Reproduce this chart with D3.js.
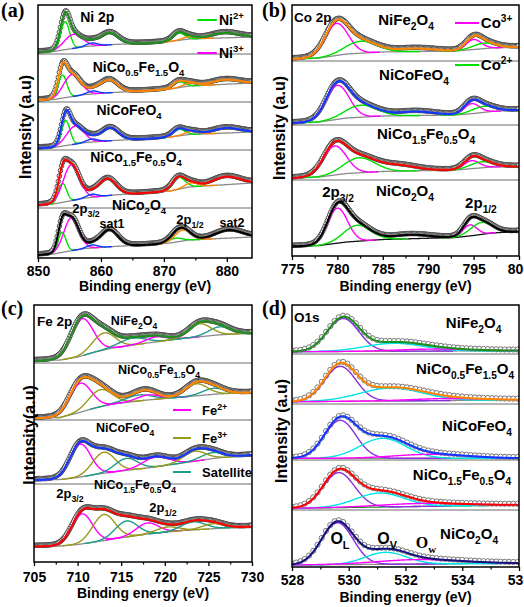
<!DOCTYPE html>
<html><head><meta charset="utf-8">
<script src="https://cdn.jsdelivr.net/npm/d3@7"></script>
<style>body{margin:0;background:#fff}svg{display:block}text{font-family:"Liberation Sans",Arial,sans-serif;font-weight:bold;fill:#000}</style>
</head><body><svg id="c" width="524" height="607"></svg>
<script>
// ================= DATA =================
// ---- (a) Ni 2p ----
const aSamples = ["NiFe_{2}O_{4}", "NiCo_{0.5}Fe_{1.5}O_{4}", "NiCoFeO_{4}", "NiCo_{1.5}Fe_{0.5}O_{4}", "NiCo_{2}O_{4}"];
const aComponents = ["Ni2+ 2p3/2", "Ni3+ 2p3/2", "shake-up", "sat1", "Ni2+ 2p1/2", "Ni3+ 2p1/2", "sat2"];
const aTicks = [850, 860, 870, 880];
const aMinorTicks = [855, 865, 875];
const aKnots = [850, 852.5, 855, 857.5, 862, 868, 871, 874, 884];
const aBackground = [
  [206, 206.5, 209, 211.5, 213.5, 215, 216.5, 219, 221],
  [158, 158.5, 161, 163.5, 165.5, 167.5, 169, 172, 175],
  [110, 110.5, 113, 115.5, 117.5, 119.5, 121, 123.5, 126],
  [53, 54, 57, 60, 63, 65.5, 67, 71, 75],
  [3, 4, 7, 9.5, 11.5, 13.5, 15, 18, 21]];
const aCenters = [
  [854.3, 855.6, 858.6, 861.3, 872.3, 874.0, 879.7],
  [853.9, 855.4, 858.7, 861.2, 872.3, 874.2, 879.8],
  [854.4, 855.9, 858.6, 861.4, 872.3, 874.4, 879.9],
  [853.9, 855.3, 858.6, 861.0, 872.3, 874.4, 879.9],
  [853.8, 855.3, 858.6, 861.3, 871.8, 873.0, 880.3]];
const aHeights = [
  [28, 14, 3, 12, 7.5, 2.5, 5],
  [23, 22, 3, 13, 6, 3, 4.5],
  [25, 18, 3, 13, 7, 3, 5],
  [19, 36, 3, 17, 12, 4, 8],
  [20, 33, 3, 17, 4, 11, 8]];
const aWidths = [
  [1.7, 3.4, 2.0, 3.4, 2.2, 2.5, 5],
  [1.6, 3.2, 2.0, 3.3, 2.2, 2.5, 5],
  [1.6, 3.2, 2.0, 3.3, 2.2, 2.5, 5],
  [1.5, 3.0, 2.0, 3.3, 2.4, 2.5, 5],
  [1.5, 2.8, 2.0, 3.3, 2.5, 3.0, 5]];
const aDividers = [204, 156, 108, 50];

// ---- (b) Co 2p ----
const bSamples = ["NiFe_{2}O_{4}", "NiCoFeO_{4}", "NiCo_{1.5}Fe_{0.5}O_{4}", "NiCo_{2}O_{4}"];
const bComponents = ["Co3+ 2p3/2", "Co2+ 2p3/2", "satellite", "Co3+ 2p1/2", "Co2+ 2p1/2"];
const bTicks = [775, 780, 785, 790, 795, 800];
const bMinorTicks = [777.5, 782.5, 787.5, 792.5, 797.5];
const bKnots = [775, 778, 781, 785, 793, 795, 797, 800];
const bBackground = [
  [197, 198, 202, 204, 205, 206.5, 208, 209],
  [133, 134, 138, 140, 141, 142.5, 144.5, 146],
  [78, 79, 82.5, 84.5, 86, 87.5, 89, 89.5],
  [9.5, 10.5, 14, 16.5, 18.5, 20.5, 23, 24.5]];
const bCenters = [
  [779.9, 782.6, 788.5, 795.0, 796.2],
  [780.0, 782.6, 788.5, 794.8, 796.1],
  [779.7, 782.4, 786.5, 794.8, 795.9],
  [780.0, 782.2, 788.0, 794.6, 795.9]];
const bHeights = [
  [32, 12, 3, 10, 5.5],
  [34, 12, 4, 10, 6],
  [29, 15, 6, 8, 6],
  [35, 16, 4, 11, 12]];
const bWidths = [
  [3.0, 4.0, 5, 2.0, 3.0],
  [3.0, 4.0, 5, 2.0, 3.0],
  [3.0, 4.0, 5, 2.0, 3.0],
  [2.6, 3.5, 5, 1.8, 2.8]];
const bDividers = [195, 131, 76];

// ---- (c) Fe 2p ----
const cSamples = ["NiFe_{2}O_{4}", "NiCo_{0.5}Fe_{1.5}O_{4}", "NiCoFeO_{4}", "NiCo_{1.5}Fe_{0.5}O_{4}"];
const cComponents = ["Fe2+ 2p3/2", "Fe3+ 2p3/2", "Satellite", "Fe2+ 2p1/2", "Fe3+ b", "Satellite 2", "Fe3+ 2p1/2"];
const cTicks = [705, 710, 715, 720, 725, 730];
const cMinorTicks = [707.5, 712.5, 717.5, 722.5, 727.5];
const cKnots = [705, 708, 710, 712, 714, 718, 722, 726, 730];
const cBackground = [
  [201.3, 202, 205, 210, 214, 219, 223.5, 227, 229],
  [143.7, 144.5, 149, 154, 158, 162, 165, 168, 169.5],
  [82, 82.5, 84.5, 87.5, 90, 94, 99, 104, 107],
  [15.5, 16, 17.5, 20, 23, 28, 31.5, 33.5, 35.5]];
const cCenters = [
  [710.5, 713.0, 716.3, 719.1, 720.5, 726.3, 724.0],
  [710.3, 712.6, 717.0, 718.1, 720.5, 725.6, 723.6],
  [710.3, 713.0, 715.6, 719.0, 720.5, 725.4, 723.4],
  [710.5, 713.0, 715.6, 718.0, 720.3, 723.3, 725.6]];
const cHeights = [
  [37, 17, 7, 5, 0, 8, 13],
  [29, 17, 6, 5, 0, 6, 12],
  [33, 21, 12, 10, 0, 6, 10],
  [30, 26, 16, 11, 5, 8, 5]];
const cWidths = [
  [3.0, 3.0, 3.5, 3.0, 3.0, 3.0, 3.0],
  [3.0, 3.2, 3.5, 3.0, 3.0, 3.0, 3.0],
  [2.8, 3.0, 3.0, 3.5, 3.0, 3.0, 3.0],
  [2.8, 3.0, 3.0, 3.0, 3.0, 3.2, 3.0]];
const cDividers = [199, 142, 78];

// ---- (d) O 1s ----
const dSamples = ["NiFe_{2}O_{4}", "NiCo_{0.5}Fe_{1.5}O_{4}", "NiCoFeO_{4}", "NiCo_{1.5}Fe_{0.5}O_{4}", "NiCo_{2}O_{4}"];
const dComponents = ["O_L", "O_V", "O_W"];
const dTicks = [528, 530, 532, 534, 536];
const dMinorTicks = [529, 531, 533, 535];
const dKnots = [528, 536];
const dBackground = [[215.3, 216.3], [165.3, 167], [108.7, 108.7], [58.7, 62], [2, 3.7]];
const dCenters = [
  [529.8, 531.6, 533.0],
  [529.7, 531.5, 533.5],
  [529.7, 531.2, 532.9],
  [529.65, 531.1, 532.6],
  [529.6, 531.3, 532.5]];
const dHeights = [
  [33, 8, 2],
  [35, 13, 2],
  [38, 20, 4],
  [35, 14, 3],
  [42, 12, 4.5]];
const dWidths = [
  [1.3, 2.4, 3.0],
  [1.3, 2.6, 3.0],
  [1.3, 1.9, 3.0],
  [1.3, 2.0, 3.5],
  [1.3, 1.7, 3.5]];
const dDividers = [213, 163, 107, 57];

// ================= DRAWING =================
const svg = d3.select("#c");
const gauss = (e, c, h, w) => h * Math.exp(-4 * Math.LN2 * ((e - c) / w) ** 2);
const GREEN = "#00e000", MAG = "#ff00ff", BLUE = "#1437ff", ORANGE = "#ff8400",
      DKGREEN = "#1f8f1f", RED = "#ff0000", GRAY = "#8a8a8a", OLIVE = "#9a9a1a",
      TEAL = "#1d9c8a", PURPLE = "#8a2be2", CYAN = "#00e5e5", NAVY = "#15157a";

function rich(sel, str, size) {
  const toks = str.match(/(_\{[^}]*\}|\^\{[^}]*\}|[^_^]+)/g);
  let shift = 0;
  sel.attr("font-size", size);
  toks.forEach(t => {
    if (t[0] === "_") {
      sel.append("tspan").attr("dy", size * 0.3 - shift).attr("font-size", size * 0.68).text(t.slice(2, -1));
      shift = size * 0.3;
    } else if (t[0] === "^") {
      sel.append("tspan").attr("dy", -size * 0.42 - shift).attr("font-size", size * 0.68).text(t.slice(2, -1));
      shift = -size * 0.42;
    } else {
      sel.append("tspan").attr("dy", -shift).text(t);
      shift = 0;
    }
  });
}

function panel(cfg) {
  const x = d3.scaleLinear().domain(cfg.domain).range([cfg.left, cfg.right]);
  const y = d3.scaleLinear().domain([0, cfg.bottom - cfg.top]).range([cfg.bottom, cfg.top]);
  const g = svg.append("g");
  const clipId = "clip" + cfg.id;
  svg.append("clipPath").attr("id", clipId).append("rect")
    .attr("x", cfg.left).attr("y", cfg.top).attr("width", cfg.right - cfg.left).attr("height", cfg.bottom - cfg.top);
  const plot = g.append("g").attr("clip-path", `url(#${clipId})`);

  cfg.dividers.forEach(v => plot.append("line").attr("x1", cfg.left).attr("x2", cfg.right)
    .attr("y1", y(v)).attr("y2", y(v)).attr("stroke", "#444").attr("stroke-width", 0.8));

  const fine = d3.range(cfg.domain[0], cfg.domain[1] + 1e-9, 0.03);
  cfg.background.forEach((bgv, i) => {
    const bg = d3.scaleLinear().domain(cfg.knots).range(bgv);
    const comps = cfg.centers[i].map((c, j) => ({ c, h: cfg.heights[i][j], w: cfg.widths[i][j], color: cfg.compColors[j] }));
    const env = e => bg(e) + d3.sum(comps, p => gauss(e, p.c, p.h, p.w));
    const pts = d3.range(cfg.domain[0], cfg.domain[1] + 1e-9, cfg.dotStep);
    plot.append("g").selectAll("circle").data(pts).join("circle")
      .attr("cx", d => x(d)).attr("cy", d => y(env(d)) - cfg.dotLift).attr("r", cfg.dotR)
      .attr("fill", "#fff").attr("stroke", cfg.dotStroke).attr("stroke-width", cfg.dotSW);
    plot.append("path").datum(fine)
      .attr("d", d3.line().x(d => x(d)).y(d => y(bg(d))))
      .attr("fill", "none").attr("stroke", cfg.bgColors[i]).attr("stroke-width", 1.3);
    comps.forEach(p => {
      if (!p.color || p.h <= 0) return;
      const xs = fine.filter(e => Math.abs(e - p.c) <= p.w * cfg.compSpan);
      plot.append("path").datum(xs)
        .attr("d", d3.line().x(d => x(d)).y(d => y(bg(d) + gauss(d, p.c, p.h, p.w))))
        .attr("fill", "none").attr("stroke", p.color).attr("stroke-width", 1.4);
    });
    plot.append("path").datum(fine)
      .attr("d", d3.line().x(d => x(d)).y(d => y(env(d))))
      .attr("fill", "none").attr("stroke", cfg.envColors[i]).attr("stroke-width", 2.1);
  });

  g.append("rect").attr("x", cfg.left).attr("y", cfg.top)
    .attr("width", cfg.right - cfg.left).attr("height", cfg.bottom - cfg.top)
    .attr("fill", "none").attr("stroke", "#000").attr("stroke-width", 1.5);

  const ax = g.append("g").attr("transform", `translate(0,${cfg.bottom})`)
    .call(d3.axisBottom(x).tickValues(cfg.ticks).tickFormat(d3.format("d")).tickSize(4).tickPadding(cfg.pad));
  ax.select(".domain").remove();
  ax.attr("font-family", null).attr("font-size", null);
  ax.selectAll("text").attr("font-size", 14).attr("fill", "#000");
  ax.selectAll("line").attr("stroke", "#000").attr("stroke-width", 1.3);
  const mx = g.append("g").attr("transform", `translate(0,${cfg.bottom})`)
    .call(d3.axisBottom(x).tickValues(cfg.minor).tickFormat("").tickSize(2.5));
  mx.select(".domain").remove();
  mx.selectAll("line").attr("stroke", "#000").attr("stroke-width", 1.2);

  g.append("text").attr("x", (cfg.left + cfg.right) / 2).attr("y", cfg.titleY)
    .attr("text-anchor", "middle").attr("font-size", 14).text("Binding energy (eV)");
  g.append("text").attr("transform", `translate(${cfg.yTitleX},${cfg.yTitleY}) rotate(-90)`)
    .attr("text-anchor", "middle").attr("font-size", 16).text(cfg.yTitle);
  g.append("text").attr("x", cfg.tagX).attr("y", cfg.tagY).attr("font-size", 20)
    .style("font-family", '"Liberation Serif","Times New Roman",serif').text(cfg.tag);

  cfg.labels.forEach(l => {
    const t = g.append("text").attr("x", x(l.e)).attr("y", y(l.v))
      .attr("text-anchor", l.anchor || "middle");
    if (l.serif) t.style("font-family", '"Liberation Serif","Times New Roman",serif');
    rich(t, l.t, l.size);
  });
  (cfg.legend || []).forEach(l => {
    g.append("line").attr("x1", x(l.e0)).attr("x2", x(l.e1)).attr("y1", y(l.v)).attr("y2", y(l.v))
      .attr("stroke", l.color).attr("stroke-width", 2);
    const t = g.append("text").attr("x", x(l.te)).attr("y", y(l.tv)).attr("text-anchor", "start");
    rich(t, l.t, l.size);
  });
}

// ---- Panel (a)
panel({
  id: "a", domain: [850, 884], left: 38, right: 252, top: 5, bottom: 258,
  knots: aKnots, background: aBackground, centers: aCenters, heights: aHeights, widths: aWidths,
  compColors: [GREEN, MAG, BLUE, null, GREEN, ORANGE, null],
  envColors: [DKGREEN, ORANGE, BLUE, RED, "#000"], bgColors: [GRAY, GRAY, GRAY, GRAY, GRAY],
  dividers: aDividers, ticks: aTicks, minor: aMinorTicks, pad: 4, titleY: 291,
  yTitle: "Intensity (a.u)", yTitleX: 31, yTitleY: 127, tag: "(a)", tagX: 1, tagY: 17,
  dotStep: 0.17, dotR: 2.3, dotLift: 1.2, dotStroke: "#3c3c3c", dotSW: 0.9, compSpan: 1.6,
  labels: [
    { t: "Ni 2p", e: 856.7, v: 236, anchor: "start", size: 14 },
    { t: aSamples[1], e: 865.97, v: 186, size: 14 },
    { t: aSamples[2], e: 864.46, v: 143, size: 14 },
    { t: aSamples[3], e: 865.57, v: 96, size: 14 },
    { t: aSamples[4], e: 866.05, v: 48, size: 14 },
    { t: "2p_{3/2}", e: 857.63, v: 45, size: 13 },
    { t: "sat1", e: 861.76, v: 30, size: 12.5 },
    { t: "2p_{1/2}", e: 874.15, v: 34, size: 13 },
    { t: "sat2", e: 880.82, v: 31, size: 12.5 }],
  legend: [
    { t: "Ni^{2+}", color: GREEN, e0: 875.3, e1: 878.4, v: 238, te: 878.75, tv: 233, size: 14 },
    { t: "Ni^{3+}", color: MAG, e0: 875.3, e1: 878.4, v: 205, te: 878.75, tv: 200, size: 14 }]
});

// ---- Panel (b)
panel({
  id: "b", domain: [775, 800], left: 292, right: 519, top: 5, bottom: 256,
  knots: bKnots, background: bBackground, centers: bCenters, heights: bHeights, widths: bWidths,
  compColors: [MAG, GREEN, null, MAG, GREEN],
  envColors: [ORANGE, BLUE, RED, "#000"], bgColors: [GRAY, GRAY, GRAY, "#111"],
  dividers: bDividers, ticks: bTicks, minor: bMinorTicks, pad: 4, titleY: 291,
  yTitle: "Intensity (a.u)", yTitleX: 285, yTitleY: 128, tag: "(b)", tagX: 262, tagY: 17,
  dotStep: 0.13, dotR: 2.3, dotLift: 1.2, dotStroke: "#3c3c3c", dotSW: 0.9, compSpan: 1.6,
  labels: [
    { t: "Co 2p", e: 775.22, v: 234, anchor: "start", size: 13.5 },
    { t: bSamples[0], e: 787.56, v: 231, size: 15 },
    { t: bSamples[1], e: 788.44, v: 176, size: 15 },
    { t: bSamples[2], e: 789.76, v: 117, size: 15 },
    { t: bSamples[3], e: 787.44, v: 60, size: 15 },
    { t: "2p_{3/2}", e: 780.07, v: 59, size: 15 },
    { t: "2p_{1/2}", e: 795.81, v: 48, size: 15 }],
  legend: [
    { t: "Co^{3+}", color: MAG, e0: 792.95, e1: 795.6, v: 233, te: 795.8, tv: 228, size: 15 },
    { t: "Co^{2+}", color: GREEN, e0: 792.95, e1: 795.6, v: 191, te: 795.8, tv: 186, size: 15 }]
});

// ---- Panel (c)
panel({
  id: "c", domain: [705, 730], left: 34, right: 252, top: 305, bottom: 562,
  knots: cKnots, background: cBackground, centers: cCenters, heights: cHeights, widths: cWidths,
  compColors: [MAG, OLIVE, TEAL, MAG, OLIVE, TEAL, OLIVE],
  envColors: [DKGREEN, ORANGE, BLUE, RED], bgColors: [GRAY, GRAY, GRAY, GRAY],
  dividers: cDividers, ticks: cTicks, minor: cMinorTicks, pad: 6, titleY: 598,
  yTitle: "Intensity(a.u)", yTitleX: 35, yTitleY: 435, tag: "(c)", tagX: 1, tagY: 315,
  dotStep: 0.13, dotR: 2.3, dotLift: 1.2, dotStroke: "#3c3c3c", dotSW: 0.9, compSpan: 1.6,
  labels: [
    { t: "Fe 2p", e: 705.34, v: 236, anchor: "start", size: 13.5 },
    { t: cSamples[0], e: 716.47, v: 237, size: 12.5 },
    { t: cSamples[1], e: 719.33, v: 188, size: 12.5 },
    { t: cSamples[2], e: 715.44, v: 130, size: 12.5 },
    { t: cSamples[3], e: 716.58, v: 73, size: 12.5 },
    { t: "2p_{3/2}", e: 709.13, v: 64, size: 13 },
    { t: "2p_{1/2}", e: 719.79, v: 50, size: 13 }],
  legend: [
    { t: "Fe^{2+}", color: MAG, e0: 720.94, e1: 723.0, v: 152, te: 724.27, tv: 147, size: 13 },
    { t: "Fe^{3+}", color: OLIVE, e0: 720.94, e1: 723.0, v: 124, te: 724.27, tv: 119, size: 13 },
    { t: "Satellite", color: TEAL, e0: 720.94, e1: 723.0, v: 90, te: 724.27, tv: 85, size: 13 }]
});

// ---- Panel (d)
panel({
  id: "d", domain: [528, 536], left: 292, right: 519, top: 305, bottom: 567,
  knots: dKnots, background: dBackground, centers: dCenters, heights: dHeights, widths: dWidths,
  compColors: [PURPLE, CYAN, MAG],
  envColors: [DKGREEN, ORANGE, BLUE, RED, NAVY], bgColors: [GRAY, GRAY, GRAY, DKGREEN, GRAY],
  dividers: dDividers, ticks: dTicks, minor: dMinorTicks, pad: 4, titleY: 602,
  yTitle: "Intensity (a.u)", yTitleX: 287, yTitleY: 431, tag: "(d)", tagX: 262, tagY: 315,
  dotStep: 0.15, dotR: 2.6, dotLift: 1.0, dotStroke: "#6a6a6a", dotSW: 0.9, compSpan: 3,
  labels: [
    { t: "O1s", e: 528.07, v: 245, anchor: "start", size: 13.5 },
    { t: dSamples[0], e: 534.40, v: 239, size: 15 },
    { t: dSamples[1], e: 534.10, v: 193, size: 15 },
    { t: dSamples[2], e: 534.52, v: 136, size: 15 },
    { t: dSamples[3], e: 533.99, v: 87, size: 15 },
    { t: dSamples[4], e: 534.24, v: 28, size: 15 },
    { t: "O_{L}", e: 529.69, v: 23, size: 16 },
    { t: "O_{V}", e: 531.35, v: 23, size: 16 },
    { t: "O_{w}", e: 532.72, v: 19, size: 16, serif: true }]
});
</script></body></html>
